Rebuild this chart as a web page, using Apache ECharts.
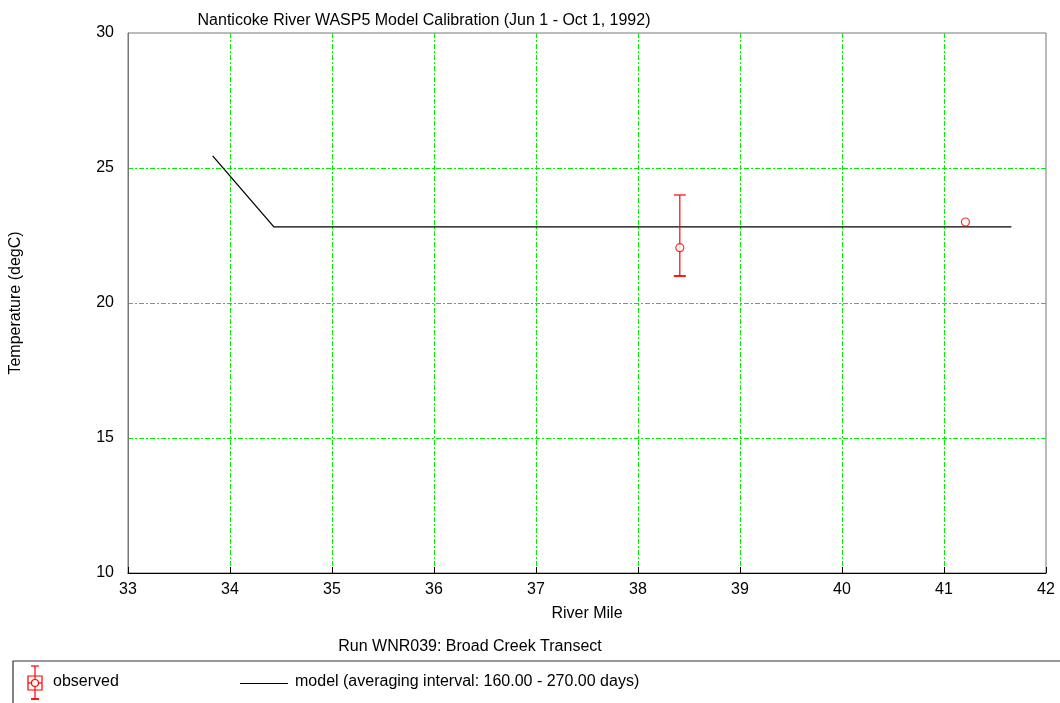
<!DOCTYPE html>
<html>
<head>
<meta charset="utf-8">
<script src="https://cdn.jsdelivr.net/npm/echarts@6/dist/echarts.min.js"></script>
<style>
  html, body { margin: 0; padding: 0; background: #fff; }
  #chart { width: 1060px; height: 703px; }
</style>
</head>
<body>
<div id="chart"></div>
<script>
// Model temperature profile along the river (river mile, degC)
const modelMiles = [33.83, 34.43, 41.66];
const modelTemps = [25.45, 22.82, 22.82];

// Observed station means with min / max range
const obsMiles = [38.41, 41.21];
const obsMeans = [22.05, 23.0];
const obsMins  = [21.0, 23.0];
const obsMaxs  = [24.0, 23.0];

const xTicks = [33, 34, 35, 36, 37, 38, 39, 40, 41, 42];
const yTicks = [10, 15, 20, 25, 30];

const FONT = 'Liberation Sans, Arial, sans-serif';
const FS = 16;
const RED = '#ff0000';
const GRID_GREEN = '#00f000';

const chart = echarts.init(document.getElementById('chart'), null, { renderer: 'canvas' });

const gridLine = {
  show: true, showMinLine: false, showMaxLine: false,
  lineStyle: { color: GRID_GREEN, width: 1, type: [5, 2, 2, 2] }
};

const option = {
  animation: false,
  backgroundColor: '#fff',
  title: [
    { text: 'Nanticoke River WASP5 Model Calibration (Jun 1 - Oct 1, 1992)', left: 419, top: 8, textAlign: 'center',
      textStyle: { fontFamily: FONT, fontSize: FS, fontWeight: 'normal', color: '#000' } },
    { text: 'Run WNR039: Broad Creek Transect', left: 465, top: 634, textAlign: 'center',
      textStyle: { fontFamily: FONT, fontSize: FS, fontWeight: 'normal', color: '#000' } }
  ],
  grid: { left: 128, right: 14, top: 33, bottom: 130, show: true, borderColor: '#777', borderWidth: 1 },
  xAxis: {
    type: 'value', min: xTicks[0], max: xTicks[xTicks.length - 1], interval: 1,
    name: 'River Mile', nameLocation: 'middle', nameGap: 33,
    nameTextStyle: { fontFamily: FONT, fontSize: FS, color: '#000' },
    axisLine: { show: true, onZero: false, lineStyle: { color: '#000', width: 1 } },
    axisTick: { show: true, inside: true, length: 6, lineStyle: { color: '#000' } },
    axisLabel: { fontFamily: FONT, fontSize: FS, color: '#000', margin: 9 },
    splitLine: gridLine
  },
  yAxis: {
    type: 'value', min: yTicks[0], max: yTicks[yTicks.length - 1], interval: 5,
    name: 'Temperature (degC)', nameLocation: 'middle', nameGap: 104, nameRotate: 90,
    nameTextStyle: { fontFamily: FONT, fontSize: FS, color: '#000' },
    axisLine: { show: true, onZero: false, lineStyle: { color: '#777', width: 1 } },
    axisTick: { show: false },
    axisLabel: { fontFamily: FONT, fontSize: FS, color: '#000', margin: 14 },
    splitLine: gridLine
  },
  series: [
    {
      name: 'model', type: 'line',
      data: modelMiles.map((m, i) => [m, modelTemps[i]]),
      symbol: 'none', lineStyle: { color: '#000', width: 1.3 }, z: 3
    },
    {
      name: 'range', type: 'custom',
      data: obsMiles.map((m, i) => [m, obsMins[i], obsMaxs[i]]),
      renderItem: function (params, api) {
        if (api.value(1) === api.value(2)) return { type: 'group', children: [] };
        const lo = api.coord([api.value(0), api.value(1)]);
        const hi = api.coord([api.value(0), api.value(2)]);
        const cap = 6;
        const st = { stroke: RED, lineWidth: 1.2 };
        return {
          type: 'group',
          children: [
            { type: 'line', shape: { x1: lo[0], y1: lo[1], x2: hi[0], y2: hi[1] }, style: st },
            { type: 'line', shape: { x1: hi[0] - cap, y1: hi[1], x2: hi[0] + cap, y2: hi[1] }, style: st },
            { type: 'line', shape: { x1: lo[0] - cap, y1: lo[1], x2: lo[0] + cap, y2: lo[1] }, style: { stroke: RED, lineWidth: 1.8 } }
          ]
        };
      },
      z: 4
    },
    {
      name: 'observed', type: 'scatter',
      data: obsMiles.map((m, i) => [m, obsMeans[i]]),
      symbol: 'circle', symbolSize: 8,
      itemStyle: { color: '#fff', borderColor: RED, borderWidth: 1.2 },
      z: 5
    }
  ],
  graphic: [
    // legend frame
    { type: 'rect', shape: { x: 13, y: 661, width: 1100, height: 100 },
      style: { fill: 'none', stroke: '#333', lineWidth: 1.2 } },
    // observed glyph: whiskers, box and circle
    { type: 'group', children: [
      { type: 'line', shape: { x1: 35, y1: 666, x2: 35, y2: 700 }, style: { stroke: RED, lineWidth: 1.2 } },
      { type: 'line', shape: { x1: 31, y1: 666, x2: 39, y2: 666 }, style: { stroke: RED, lineWidth: 1.2 } },
      { type: 'line', shape: { x1: 31, y1: 699, x2: 39, y2: 699 }, style: { stroke: RED, lineWidth: 1.8 } },
      { type: 'rect', shape: { x: 28, y: 676, width: 14, height: 14 }, style: { fill: '#fff', stroke: RED, lineWidth: 1.2 } },
      { type: 'line', shape: { x1: 35, y1: 676, x2: 35, y2: 690 }, style: { stroke: RED, lineWidth: 1.2 } },
      { type: 'line', shape: { x1: 28, y1: 683, x2: 42, y2: 683 }, style: { stroke: RED, lineWidth: 1.2 } },
      { type: 'circle', shape: { cx: 35, cy: 683, r: 3.5 }, style: { fill: '#fff', stroke: RED, lineWidth: 1.2 } }
    ] },
    { type: 'text', left: 53, top: 674, style: { text: 'observed', font: FS + 'px ' + FONT, fill: '#000' } },
    { type: 'line', shape: { x1: 240, y1: 683.5, x2: 288, y2: 683.5 }, style: { stroke: '#000', lineWidth: 1 } },
    { type: 'text', left: 295, top: 674,
      style: { text: 'model (averaging interval: 160.00 - 270.00 days)', font: FS + 'px ' + FONT, fill: '#000' } }
  ]
};

chart.setOption(option);
</script>
</body>
</html>
